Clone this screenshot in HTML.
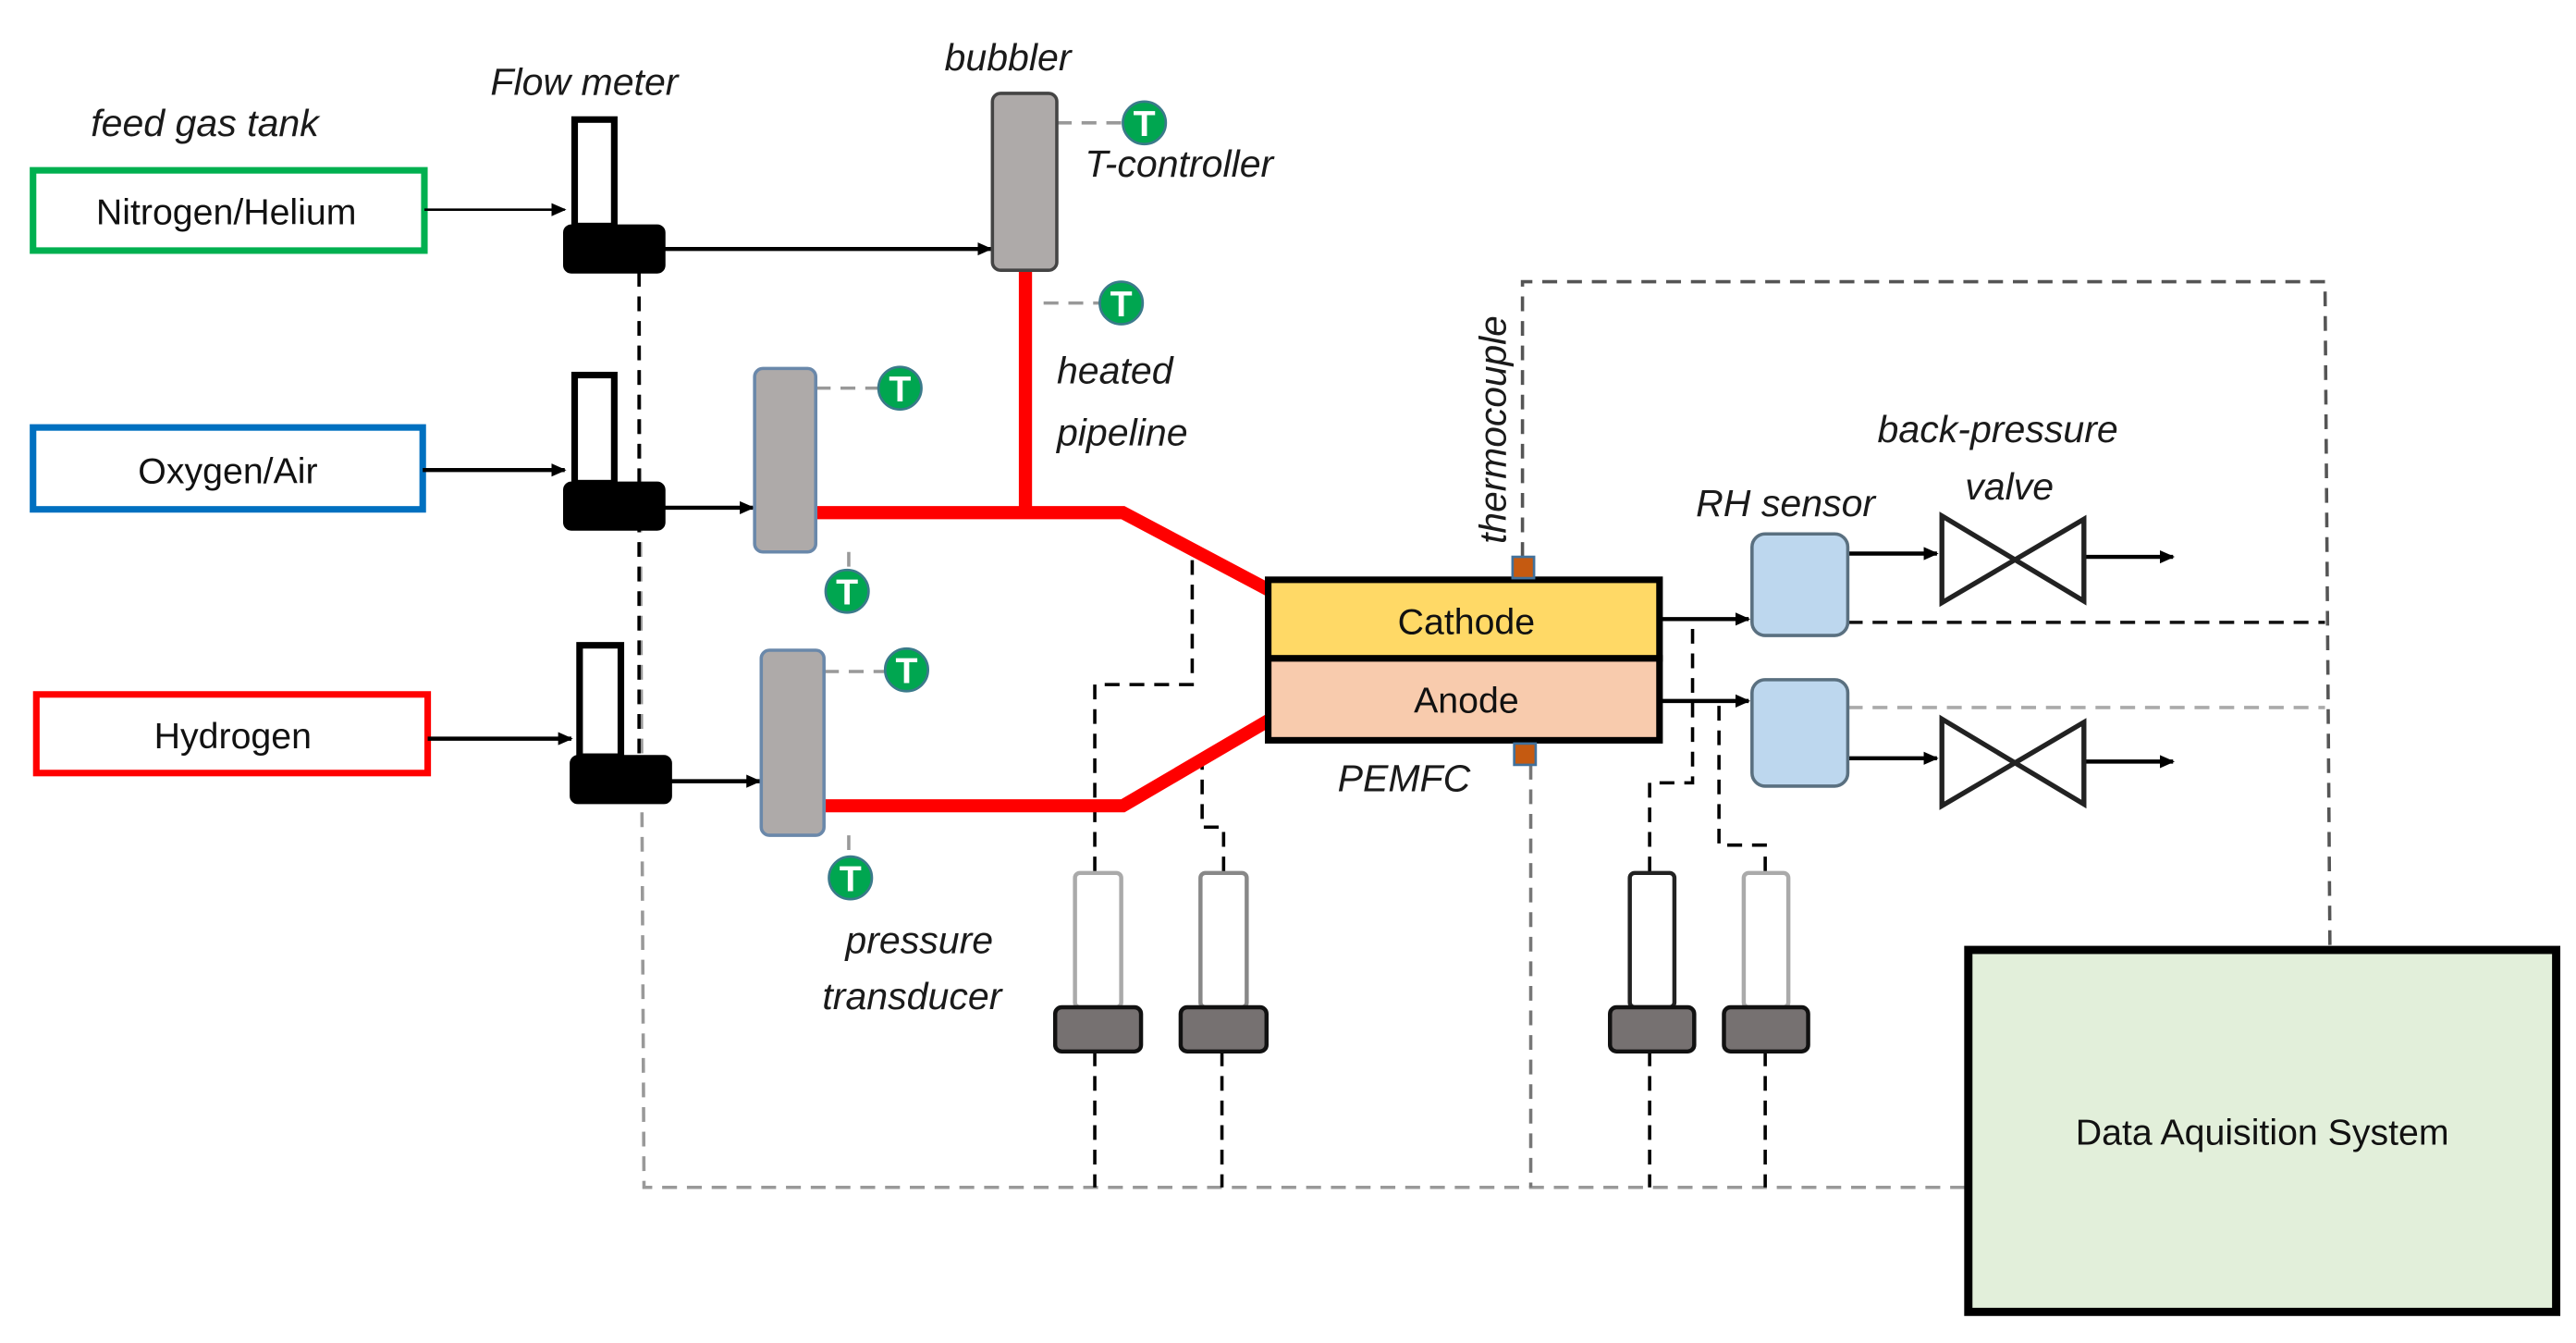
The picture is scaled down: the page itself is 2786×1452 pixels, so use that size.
<!DOCTYPE html>
<html><head><meta charset="utf-8"><style>
html,body{margin:0;padding:0;background:#fff;}
svg{display:block;}
text{font-family:"Liberation Sans",sans-serif;}
.it{font-style:italic;font-size:23px;fill:#1a1a1a;}
.lb{font-size:22px;fill:#111;}
</style></head><body>
<svg width="2786" height="1452" viewBox="0 0 1560 820" preserveAspectRatio="none" xmlns="http://www.w3.org/2000/svg">
<defs>
<marker id="ar" markerWidth="10" markerHeight="10" refX="8" refY="5" orient="auto" markerUnits="userSpaceOnUse"><path d="M0,1 L9,5 L0,9 z" fill="#000"/></marker>
<g id="tc"><circle r="13" fill="#00a650" stroke="#3a7a8a" stroke-width="1.5"/><text x="0" y="8" text-anchor="middle" font-size="22" font-weight="bold" fill="#fff">T</text></g>
</defs>

<!-- dashed signal lines -->
<g fill="none" stroke-width="2" stroke-dasharray="9,6">
<path d="M387,166 L390,725 L1191,725" stroke="#999"/>
<path d="M387,166 L387,460" stroke="#000"/>
<path d="M922,340 L922,172 L1408,172 L1411,580" stroke="#555"/>
<path d="M1119,380 L1408,380" stroke="#111"/>
<path d="M1119,432 L1408,432" stroke="#aaa"/>
<path d="M927,467 L927,725" stroke="#777"/>
<path d="M663,532 L663,418 L722,418 L722,338" stroke="#000"/>
<path d="M741,532 L741,505 L728,505 L728,458" stroke="#000"/>
<path d="M999,532 L999,478 L1025,478 L1025,378" stroke="#000"/>
<path d="M1069,532 L1069,516 L1041,516 L1041,428" stroke="#000"/>
<path d="M663,642 L663,725 M740,642 L740,725 M999,642 L999,725 M1069,642 L1069,725" stroke="#000"/>
<path d="M640,75 L680,75 M632,185 L666,185 M494,237 L532,237 M514,337 L514,348 M499,410 L536,410 M514,510 L514,523" stroke="#999"/>
</g>

<!-- red heated pipeline -->
<g fill="none" stroke="#f00" stroke-width="8">
<path d="M621,166 L621,313"/>
<path d="M494,313 L680,313 L768,360"/>
<path d="M500,492 L680,492 L768,440"/>
</g>

<!-- gas boxes -->
<rect x="20" y="104" width="237" height="49" fill="#fff" stroke="#00b050" stroke-width="4"/>
<text x="137" y="137" text-anchor="middle" class="lb">Nitrogen/Helium</text>
<rect x="20" y="261" width="236" height="50" fill="#fff" stroke="#0070c0" stroke-width="4"/>
<text x="138" y="295" text-anchor="middle" class="lb">Oxygen/Air</text>
<rect x="22" y="424" width="237" height="48" fill="#fff" stroke="#f00" stroke-width="4"/>
<text x="141" y="457" text-anchor="middle" class="lb">Hydrogen</text>

<text x="55" y="83" class="it">feed gas tank</text>
<text x="297" y="58" class="it">Flow meter</text>
<text x="572" y="43" class="it">bubbler</text>
<text x="657" y="108" class="it">T-controller</text>
<text x="640" y="234" class="it">heated</text>
<text x="640" y="272" class="it">pipeline</text>
<text x="512" y="582" class="it">pressure</text>
<text x="498" y="616" class="it">transducer</text>
<text x="810" y="483" class="it">PEMFC</text>
<text x="1027" y="315" class="it">RH sensor</text>
<text x="1137" y="270" class="it">back-pressure</text>
<text x="1190" y="305" class="it">valve</text>
<text transform="translate(912,332) rotate(-90)" class="it">thermocouple</text>

<!-- arrows -->
<g stroke="#000" stroke-width="2.5" fill="none" marker-end="url(#ar)">
<path d="M257,128 L342,128" stroke-width="1.5"/>
<path d="M402,152 L600,152"/>
<path d="M256,287 L342,287"/>
<path d="M402,310 L456,310"/>
<path d="M259,451 L346,451"/>
<path d="M406,477 L460,477"/>
<path d="M1005,378 L1059,378"/>
<path d="M1005,428 L1059,428"/>
<path d="M1119,338 L1173,338"/>
<path d="M1262,340 L1316,340"/>
<path d="M1119,463 L1173,463"/>
<path d="M1262,465 L1316,465"/>
</g>

<!-- flow meters -->
<g stroke="#000" stroke-width="4">
<rect x="348" y="73" width="24" height="65" fill="#fff"/>
<rect x="343" y="139" width="58" height="26" rx="3" fill="#000"/>
<rect x="348" y="229" width="24" height="66" fill="#fff"/>
<rect x="343" y="296" width="58" height="26" rx="3" fill="#000"/>
<rect x="351" y="394" width="25" height="68" fill="#fff"/>
<rect x="347" y="463" width="58" height="26" rx="3" fill="#000"/>
</g>

<!-- bubbler / heaters -->
<rect x="601" y="57" width="39" height="108" rx="5" fill="#aeaaa9" stroke="#444" stroke-width="2"/>
<rect x="457" y="225" width="37" height="112" rx="5" fill="#aeaaa9" stroke="#6a88aa" stroke-width="2"/>
<rect x="461" y="397" width="38" height="113" rx="5" fill="#aeaaa9" stroke="#6a88aa" stroke-width="2"/>

<use href="#tc" x="693" y="75"/>
<use href="#tc" x="679" y="185"/>
<use href="#tc" x="545" y="237"/>
<use href="#tc" x="513" y="361"/>
<use href="#tc" x="549" y="409"/>
<use href="#tc" x="515" y="536"/>

<!-- PEMFC -->
<rect x="768" y="354" width="237" height="48" fill="#ffd966" stroke="#000" stroke-width="4"/>
<rect x="768" y="402" width="237" height="50" fill="#f8cbad" stroke="#000" stroke-width="4"/>
<text x="888" y="387" text-anchor="middle" class="lb">Cathode</text>
<text x="888" y="435" text-anchor="middle" class="lb">Anode</text>
<rect x="916" y="340" width="13" height="13" fill="#c55a11" stroke="#41719c" stroke-width="1.5"/>
<rect x="917" y="454" width="13" height="13" fill="#c55a11" stroke="#41719c" stroke-width="1.5"/>

<!-- RH sensors -->
<rect x="1061" y="326" width="58" height="62" rx="8" fill="#bdd7ee" stroke="#5a7080" stroke-width="2"/>
<rect x="1061" y="415" width="58" height="65" rx="8" fill="#bdd7ee" stroke="#5a7080" stroke-width="2"/>

<!-- valves -->
<g fill="#fff" stroke="#222" stroke-width="3">
<path d="M1176,315 L1262,367 L1262,317 L1176,368 Z"/>
<path d="M1176,439 L1262,491 L1262,441 L1176,492 Z"/>
</g>

<!-- pressure transducers -->
<g stroke-width="2.5">
<rect x="651" y="533" width="28" height="82" rx="3" fill="#fff" stroke="#aaa"/>
<rect x="727" y="533" width="28" height="82" rx="3" fill="#fff" stroke="#888"/>
<rect x="987" y="533" width="27" height="82" rx="3" fill="#fff" stroke="#222"/>
<rect x="1056" y="533" width="27" height="82" rx="3" fill="#fff" stroke="#aaa"/>
<rect x="639" y="615" width="52" height="27" rx="4" fill="#767171" stroke="#111"/>
<rect x="715" y="615" width="52" height="27" rx="4" fill="#767171" stroke="#111"/>
<rect x="975" y="615" width="51" height="27" rx="4" fill="#767171" stroke="#111"/>
<rect x="1044" y="615" width="51" height="27" rx="4" fill="#767171" stroke="#111"/>
</g>

<!-- DAQ -->
<rect x="1192" y="580" width="356" height="221" fill="#e2efda" stroke="#000" stroke-width="5"/>
<text x="1370" y="699" text-anchor="middle" class="lb" font-size="23">Data Aquisition System</text>
</svg>
</body></html>
